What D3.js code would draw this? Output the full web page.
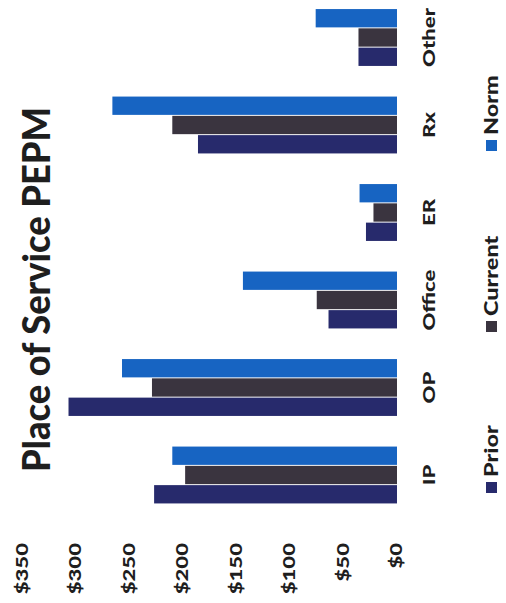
<!DOCTYPE html>
<html>
<head>
<meta charset="utf-8">
<script src="https://cdn.jsdelivr.net/npm/d3@7"></script>
<style>
  html, body { margin: 0; padding: 0; background: #fff; }
  svg { display: block; }
  text { font-family: Lato, "Open Sans", sans-serif; font-weight: 900; fill: #1e1e1e; }
</style>
</head>
<body>
<script>
// Place of Service PEPM: per-employee-per-month cost by place of service
const categories = ["IP", "OP", "Office", "ER", "Rx", "Other"];
const seriesNames = ["Prior", "Current", "Norm"];
const prior   = [227, 307, 64, 29, 186, 36];
const current = [198, 229, 75, 22, 210, 36];
const norm    = [210, 257, 144, 35, 266, 76];
const tickValues = [0, 50, 100, 150, 200, 250, 300, 350];
const tickLabels = ["$0", "$50", "$100", "$150", "$200", "$250", "$300", "$350"];
const seriesColors = ["#272a6c", "#3a343f", "#1764c2"];

const seriesValues = [prior, current, norm];

// Page is portrait; the chart itself is laid out landscape and turned a quarter turn.
const pageW = 506, pageH = 603;

const svg = d3.select("body").append("svg")
  .attr("width", pageW).attr("height", pageH);

const g = svg.append("g")
  .attr("transform", `translate(0,${pageH}) rotate(-90)`);

const x = d3.scaleBand()
  .domain(categories)
  .range([84.25, 609.25])
  .paddingInner(0.35)
  .paddingOuter(0.175);

const xs = d3.scaleBand()
  .domain(seriesNames)
  .range([0, x.bandwidth()])
  .paddingInner(0.05);

const y = d3.scaleLinear()
  .domain([0, 350])
  .range([397, 22.5]);

const stretch = 1.3;

// Title
g.append("text")
  .attr("x", 131).attr("y", 50)
  .attr("font-size", 37)
  .attr("textLength", 365)
  .attr("lengthAdjust", "spacingAndGlyphs")
  .text("Place of Service PEPM");

// Value axis labels
const yAxis = g.append("g").attr("class", "y-axis");
yAxis.selectAll("text")
  .data(tickValues)
  .join("text")
  .attr("transform", d => `translate(60,${y(d)}) scale(${stretch},1)`)
  .attr("text-anchor", "end")
  .attr("dy", "0.3em")
  .attr("font-size", 17)
  .text((d, i) => tickLabels[i]);

// Bars
const groups = g.append("g").selectAll("g")
  .data(categories)
  .join("g")
  .attr("transform", d => `translate(${x(d)},0)`);

groups.selectAll("rect")
  .data((c, ci) => seriesNames.map((s, si) => ({ s, si, v: seriesValues[si][ci] })))
  .join("rect")
  .attr("x", d => xs(d.s))
  .attr("width", xs.bandwidth())
  .attr("y", d => y(d.v))
  .attr("height", d => y(0) - y(d.v))
  .attr("fill", d => seriesColors[d.si]);

// Category labels
g.append("g").selectAll("text")
  .data(categories)
  .join("text")
  .attr("transform", d => `translate(${x(d) + x.bandwidth() / 2},435) scale(${stretch},1)`)
  .attr("text-anchor", "middle")
  .attr("font-size", 17)
  .text(d => d);

// Legend
const legendX = [110, 271, 452];
const legend = g.append("g").selectAll("g")
  .data(seriesNames)
  .join("g")
  .attr("transform", (d, i) => `translate(${legendX[i]},0)`);

legend.append("rect")
  .attr("x", 0).attr("y", 486)
  .attr("width", 11).attr("height", 11)
  .attr("fill", (d, i) => seriesColors[i]);

legend.append("text")
  .attr("transform", `translate(16,498) scale(${stretch},1)`)
  .attr("font-size", 18)
  .text(d => d);
</script>
</body>
</html>
